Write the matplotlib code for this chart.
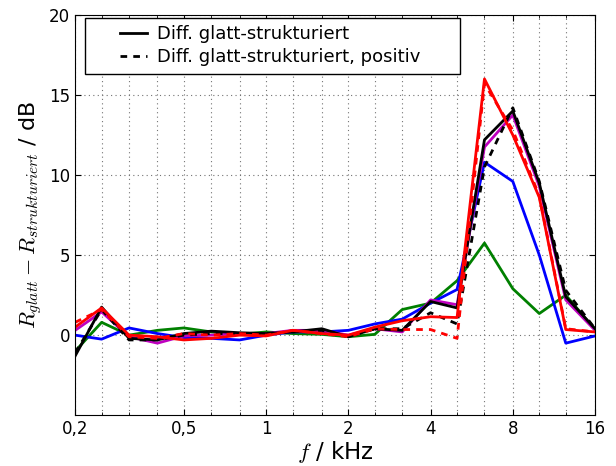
import matplotlib
matplotlib.use("Agg")
import matplotlib.pyplot as plt
from matplotlib.lines import Line2D
from matplotlib.ticker import FixedLocator, NullFormatter
from matplotlib.legend_handler import HandlerTuple

plt.rcParams['mathtext.fontset'] = 'cm'
plt.rcParams['font.family'] = ['DejaVu Sans']

# Terzband-Mittenfrequenzen in kHz
freqs = [0.2, 0.25, 0.315, 0.4, 0.5, 0.63, 0.8, 1, 1.25, 1.6,
         2, 2.5, 3.15, 4, 5, 6.3, 8, 10, 12.5, 16]

diff_black = [-1.3, 1.75, -0.2, -0.3, 0.1, 0.25, 0.15, 0.1, 0.2, 0.4,
              -0.1, 0.4, 0.3, 2.1, 1.7, 12.2, 14.0, 9.5, 2.4, 0.4]
diff_black_pos = [-1.1, 1.6, -0.3, -0.3, 0.0, 0.1, 0.1, 0.1, 0.2, 0.3,
                  -0.1, 0.4, 0.4, 1.4, 0.7, 10.5, 14.2, 9.6, 2.8, 0.4]
diff_blue = [0.0, -0.25, 0.45, 0.1, -0.15, -0.2, -0.3, 0.0, 0.2, 0.2,
             0.3, 0.7, 1.0, 2.0, 2.85, 10.8, 9.6, 5.0, -0.5, -0.05]
diff_green = [-1.0, 0.8, 0.0, 0.3, 0.45, 0.2, 0.05, 0.2, 0.1, 0.05,
              -0.1, 0.05, 1.6, 2.0, 3.4, 5.75, 2.9, 1.35, 2.5, 0.35]
diff_magenta = [0.3, 1.45, -0.1, -0.5, -0.05, 0.0, 0.1, 0.1, 0.3, 0.3,
                0.0, 0.4, 0.2, 2.2, 1.9, 11.75, 13.75, 9.3, 2.2, 0.3]
diff_red = [0.5, 1.7, 0.0, -0.1, -0.3, -0.2, 0.0, -0.05, 0.3, 0.1,
            0.0, 0.5, 0.9, 1.15, 1.1, 16.0, 12.5, 8.6, 0.35, 0.2]
diff_red_pos = [0.8, 1.6, -0.1, -0.2, 0.1, 0.0, 0.1, 0.0, 0.3, 0.1,
                -0.1, 0.4, 0.35, 0.35, -0.2, 15.7, 12.8, 8.7, 0.4, 0.2]

major_ticks = [0.2, 0.5, 1, 2, 4, 8, 16]
major_labels = ['0,2', '0,5', '1', '2', '4', '8', '16']

fig = plt.figure(figsize=(6.16, 4.66), dpi=100)
ax = fig.add_axes([0.122, 0.109, 0.844, 0.859])

dash = (0, (2.4, 2.2))
lw = 2
ax.plot(freqs, diff_green, color=(0, 0.5, 0), lw=lw)
ax.plot(freqs, diff_blue, color=(0, 0, 1), lw=lw)
ax.plot(freqs, diff_magenta, color=(0.75, 0, 0.75), lw=lw)
l1, = ax.plot(freqs, diff_black, color='k', lw=lw)
l2, = ax.plot(freqs, diff_black_pos, color='k', lw=lw, linestyle=dash)
ax.plot(freqs, diff_red_pos, color=(1, 0, 0), lw=lw, linestyle=dash)
ax.plot(freqs, diff_red, color=(1, 0, 0), lw=lw)

ax.set_xscale('log')
ax.set_xlim(0.2, 16)
ax.set_ylim(-5, 20)
ax.set_yticks([0, 5, 10, 15, 20])

ax.xaxis.set_major_locator(FixedLocator(major_ticks))
ax.set_xticklabels(major_labels)
ax.xaxis.set_minor_locator(FixedLocator([f for f in freqs if f not in major_ticks]))
ax.xaxis.set_minor_formatter(NullFormatter())

ax.tick_params(which='both', direction='in', top=True, right=True, labelsize=12)
ax.tick_params(which='major', length=4)
ax.tick_params(which='minor', length=2)

grid_style = dict(linestyle=(0, (1, 3)), color='0.45', lw=0.8)
ax.grid(True, which='both', axis='x', **grid_style)
ax.grid(True, which='major', axis='y', **grid_style)

ax.set_xlabel(r'$f$ / kHz', fontsize=16.5, labelpad=1)
ax.set_ylabel(r'$R_{glatt} - R_{strukturiert}$ / dB', fontsize=16)

# leere Linie als Platzhalter links vom Legendensymbol
blank = Line2D([], [], color='none')
leg = ax.legend([(blank, l1), (blank, l2)],
                ['Diff. glatt-strukturiert', 'Diff. glatt-strukturiert, positiv'],
                handler_map={tuple: HandlerTuple(ndivide=2, pad=0)},
                loc='upper left', bbox_to_anchor=(10 / 520, 0.993, 375 / 520, 0.0),
                mode='expand', borderaxespad=0, fontsize=13,
                fancybox=False, framealpha=1, handlelength=3.03,
                handletextpad=0.55, borderpad=0.4, labelspacing=0.3)
leg.get_frame().set_edgecolor('k')

fig.savefig('out.png', dpi=100)
